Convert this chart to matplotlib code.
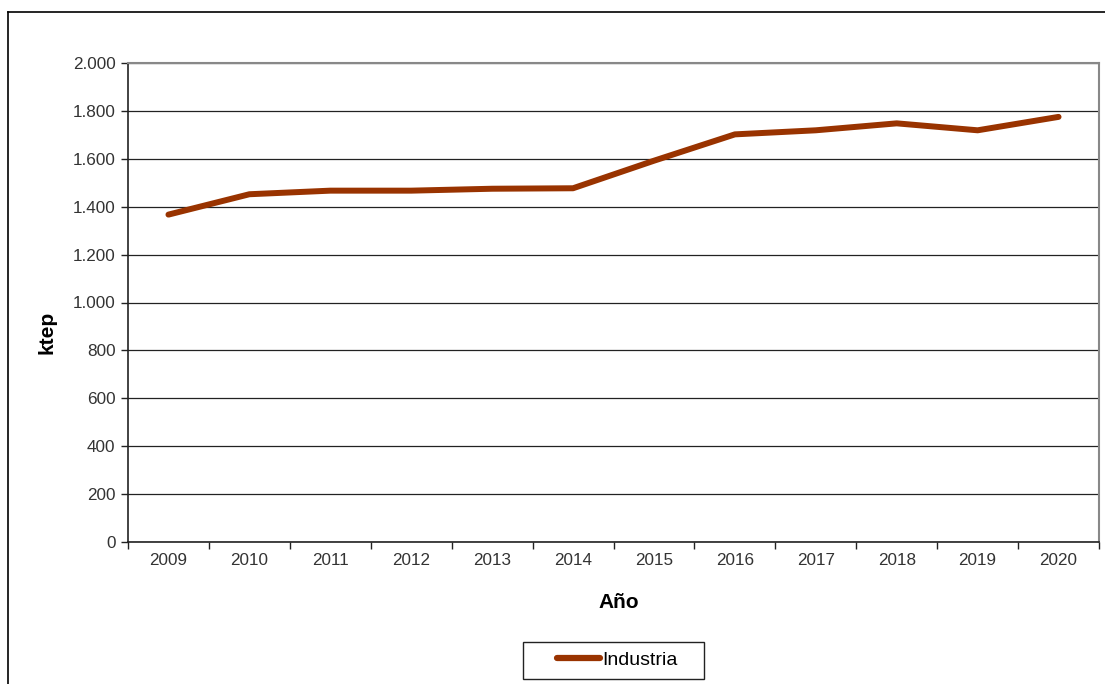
import matplotlib
matplotlib.use("Agg")
import matplotlib.pyplot as plt
from matplotlib.ticker import FuncFormatter, FixedLocator
from matplotlib.lines import Line2D
from matplotlib.patches import Rectangle
import numpy as np

years = ["2009", "2010", "2011", "2012", "2013", "2014",
         "2015", "2016", "2017", "2018", "2019", "2020"]
industria = [1367, 1452, 1467, 1467, 1475, 1477, 1592, 1702, 1719, 1748, 1719, 1775]

plt.rcParams['font.family'] = ['Liberation Sans', 'DejaVu Sans']

W, H = 1105, 684
fig = plt.figure(figsize=(W / 100, H / 100), dpi=100)
ax = fig.add_axes([128 / W, 1 - 542 / H, (1099 - 128) / W, (542 - 63) / H])

x = np.arange(len(years))
ax.plot(x, industria, color='#993300', lw=4.3, solid_capstyle='round',
        solid_joinstyle='round', label='Industria', zorder=3)

ax.set_ylim(0, 2000)
ax.set_xlim(-0.5, len(years) - 0.5)
ax.set_yticks(np.arange(0, 2001, 200))
ax.yaxis.set_major_formatter(FuncFormatter(lambda v, p: f"{int(v):,}".replace(",", ".")))
ax.grid(axis='y', color='#222222', lw=0.9)
ax.set_axisbelow(True)

# category axis: ticks between categories, labels at centers
ax.xaxis.set_major_locator(FixedLocator(np.arange(-0.5, len(years), 1.0)))
ax.xaxis.set_major_formatter(FuncFormatter(lambda v, p: ""))
ax.xaxis.set_minor_locator(FixedLocator(x))
ax.set_xticklabels(years, minor=True)
ax.tick_params(axis='x', which='minor', length=0, pad=8, labelsize=12.3, labelcolor='#333333')
ax.tick_params(axis='x', which='major', length=5, width=1, color='#222222')
ax.tick_params(axis='y', length=5, width=1, color='#222222', pad=4, labelsize=12.3, labelcolor='#333333')

for s in ['left', 'bottom']:
    ax.spines[s].set_color('#222222')
    ax.spines[s].set_linewidth(1.2)
for s in ['top', 'right']:
    ax.spines[s].set_color('#888888')
    ax.spines[s].set_linewidth(1.5)

fig.text(619 / W, 1 - 602 / H, "Año", ha='center', va='center', fontsize=15, fontweight='bold')
fig.text(47 / W, 1 - 332 / H, "ktep", ha='center', va='center', fontsize=15,
         fontweight='bold', rotation=90)

# legend box drawn as a frame, entry placed inside it
fig.add_artist(Rectangle((523 / W, 1 - 679 / H), (704 - 523) / W, (679 - 642) / H,
                         transform=fig.transFigure, facecolor='white',
                         edgecolor='#222222', lw=1.0))
leg = fig.legend(handles=[Line2D([0], [0], color='#993300', lw=4.5, solid_capstyle='round')],
                 labels=['Industria'], loc='center left',
                 bbox_to_anchor=(557 / W, 1 - 660 / H), fontsize=14,
                 handlelength=2.2, handletextpad=0.15, borderpad=0, borderaxespad=0,
                 frameon=False)

# outer chart border
fig.add_artist(Line2D([8 / W, 1.0], [1 - 12 / H, 1 - 12 / H], color='black', lw=1.2,
                      transform=fig.transFigure))
fig.add_artist(Line2D([8 / W, 8 / W], [0, 1 - 12 / H], color='black', lw=1.2,
                      transform=fig.transFigure))

fig.savefig("out.png", dpi=100)
